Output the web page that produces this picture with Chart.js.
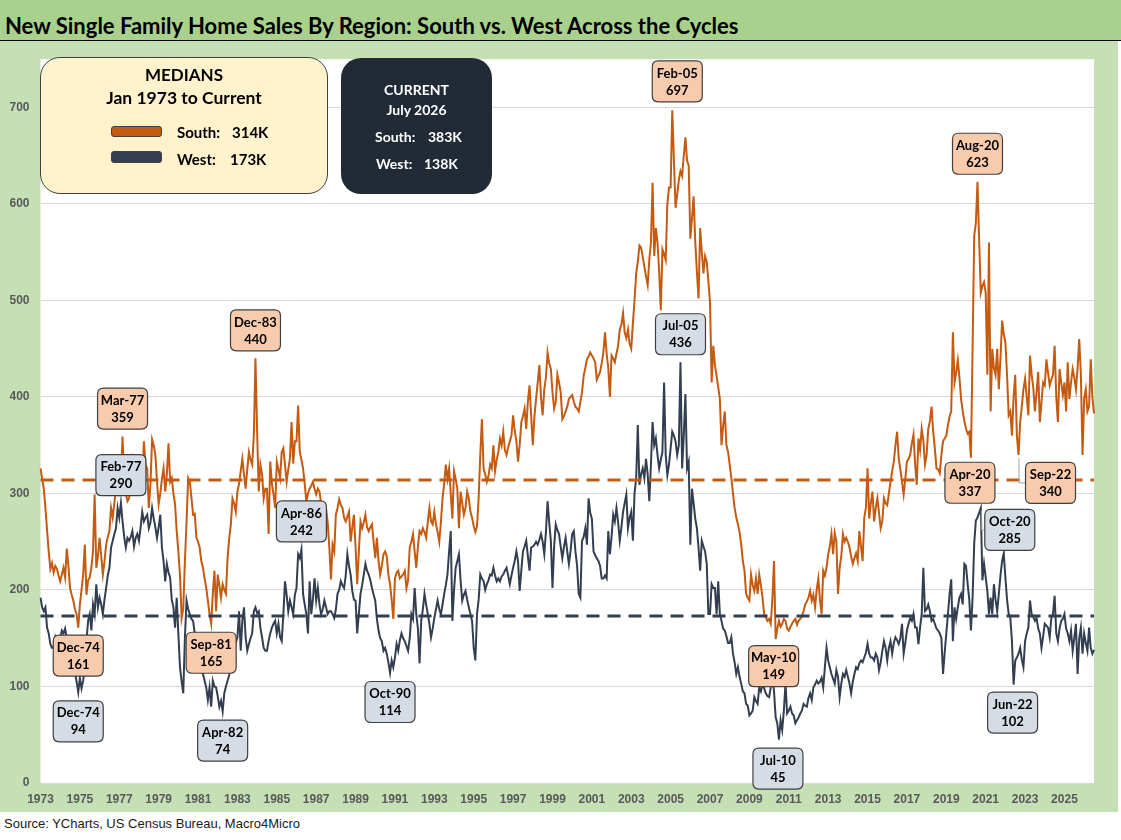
<!DOCTYPE html>
<html>
<head>
<meta charset="utf-8">
<script src="https://cdn.jsdelivr.net/npm/chart.js@4.4.1/dist/chart.umd.min.js"></script>
<style>
  body { margin: 0; background: #fff; font-family: Lato, "Open Sans", sans-serif; }
  #page { position: relative; width: 1121px; height: 840px; overflow: hidden; }
  #title { position: absolute; left: 0; top: 0; width: 1121px; height: 40px; background: #a9d18e; border-bottom: 1px solid #000; }
  #title span { position: absolute; left: 5px; top: 15px; font: bold 22px/22px Lato, sans-serif; color: #000; white-space: nowrap; }
  #frame { position: absolute; left: 0; top: 41px; width: 1118px; height: 771px; background: #c5e0b4; }
  #frame canvas { position: absolute; left: 0; top: 0; }
  .abs { position: absolute; white-space: nowrap; }
  .t { font-weight: bold; line-height: 1; }
  #source { position: absolute; left: 4px; top: 817px; font: 13px/1 "Liberation Sans", Arial, sans-serif; color: #1a1a1a; }
</style>
</head>
<body>
<div id="page">
  <div id="title"><span>New Single Family Home Sales By Region: South vs. West Across the Cycles</span></div>
  <div id="frame"><canvas id="chart" width="1118" height="771"></canvas></div>

  <!-- medians box -->
  <div class="abs" style="left:40px;top:57px;width:286px;height:135px;background:#fff2cc;border:1px solid #404040;border-radius:20px;"></div>
  <div class="abs t" style="left:40px;top:66px;width:288px;text-align:center;font-size:17px;">MEDIANS</div>
  <div class="abs t" style="left:40px;top:89px;width:288px;text-align:center;font-size:17.5px;">Jan 1973 to Current</div>
  <div class="abs" style="left:111px;top:126px;width:49px;height:9px;background:#c55a11;border:1px solid #404040;border-radius:3px;"></div>
  <div class="abs t" style="left:177px;top:125px;font-size:15px;">South:</div>
  <div class="abs t" style="left:232px;top:125px;font-size:15px;">314K</div>
  <div class="abs" style="left:111px;top:151px;width:49px;height:10px;background:#333f50;border:1px solid #404040;border-radius:3px;"></div>
  <div class="abs t" style="left:177px;top:152px;font-size:15px;">West:</div>
  <div class="abs t" style="left:230px;top:152px;font-size:15px;">173K</div>

  <!-- current box -->
  <div class="abs" style="left:341px;top:58px;width:151px;height:136px;background:#222a35;border-radius:20px;"></div>
  <div class="abs t" style="left:341px;top:83px;width:151px;text-align:center;font-size:14px;color:#fff;">CURRENT</div>
  <div class="abs t" style="left:341px;top:103px;width:151px;text-align:center;font-size:14px;color:#fff;">July 2026</div>
  <div class="abs t" style="left:375px;top:130px;font-size:14px;color:#fff;">South:</div>
  <div class="abs t" style="left:428px;top:130px;font-size:14px;color:#fff;">383K</div>
  <div class="abs t" style="left:376px;top:157px;font-size:14px;color:#fff;">West:</div>
  <div class="abs t" style="left:424px;top:157px;font-size:14px;color:#fff;">138K</div>

  <div id="source">Source: YCharts, US Census Bureau, Macro4Micro</div>
</div>

<script>
// monthly sales, thousands (SAAR), Jan 1973 .. Jul 2026
const south = [
  326, 315, 305, 285, 262, 240, 222, 228, 218, 225, 222, 215, // 1973
  209, 216, 223, 213, 243, 225, 202, 195, 189, 180, 175, 161, // 1974
  185, 200, 216, 247, 195, 210, 213, 223, 240, 299, 223, 235, // 1975
  254, 235, 216, 230, 247, 255, 261, 285, 275, 290, 305, 319, // 1976
  302, 310, 359, 312, 300, 292, 295, 310, 333, 320, 336, 330, // 1977
  326, 318, 312, 354, 330, 326, 285, 310, 356, 350, 340, 312, // 1978
  289, 300, 315, 326, 302, 320, 352, 312, 316, 300, 289, 261, // 1979
  240, 215, 171, 181, 230, 271, 316, 312, 295, 278, 279, 254, // 1980
  250, 244, 230, 223, 212, 202, 189, 175, 165, 196, 220, 178, // 1981
  216, 205, 192, 206, 200, 196, 233, 254, 268, 295, 290, 281, // 1982
  302, 310, 323, 336, 320, 305, 325, 343, 335, 330, 360, 440, // 1983
  364, 302, 330, 320, 295, 305, 305, 258, 333, 310, 299, 285, // 1984
  333, 325, 316, 343, 347, 330, 312, 325, 336, 374, 331, 354, // 1985
  354, 391, 343, 335, 326, 310, 292, 300, 305, 308, 312, 305, // 1986
  299, 305, 302, 290, 278, 285, 285, 270, 244, 211, 247, 240, // 1987
  278, 285, 294, 288, 285, 275, 271, 276, 281, 250, 265, 278, // 1988
  244, 206, 240, 271, 264, 270, 278, 265, 261, 265, 268, 250, // 1989
  233, 254, 230, 216, 225, 237, 240, 235, 216, 206, 190, 170, // 1990
  212, 218, 220, 212, 214, 216, 220, 202, 210, 244, 250, 258, // 1991
  240, 223, 245, 261, 258, 264, 260, 254, 270, 285, 271, 268, // 1992
  281, 268, 260, 250, 270, 295, 310, 330, 315, 326, 300, 274, // 1993
  323, 315, 305, 264, 302, 290, 278, 285, 302, 295, 281, 275, // 1994
  266, 260, 266, 295, 340, 377, 326, 320, 312, 318, 330, 326, // 1995
  350, 323, 335, 343, 357, 350, 364, 345, 340, 348, 354, 360, // 1996
  381, 365, 354, 333, 350, 374, 380, 388, 367, 395, 412, 381, // 1997
  350, 380, 398, 415, 433, 400, 381, 408, 420, 446, 435, 429, // 1998
  405, 388, 395, 423, 415, 405, 377, 380, 385, 390, 398, 400, // 1999
  402, 395, 390, 388, 385, 395, 405, 422, 430, 439, 442, 446, // 2000
  443, 440, 436, 418, 422, 426, 435, 446, 467, 445, 430, 400, // 2001
  443, 440, 436, 445, 453, 470, 475, 487, 467, 461, 470, 455, // 2002
  450, 476, 500, 528, 540, 557, 555, 545, 535, 525, 516, 542, // 2003
  560, 622, 546, 575, 560, 530, 490, 553, 548, 542, 600, 617, // 2004
  617, 697, 645, 596, 610, 625, 634, 629, 650, 669, 645, 640, // 2005
  564, 585, 608, 561, 530, 502, 575, 550, 528, 546, 540, 520, // 2006
  498, 415, 453, 433, 422, 410, 398, 350, 370, 385, 350, 343, // 2007
  330, 316, 300, 285, 275, 268, 260, 247, 230, 220, 196, 192, // 2008
  189, 216, 205, 199, 212, 196, 216, 205, 192, 175, 172, 168, // 2009
  170, 165, 190, 230, 149, 160, 168, 162, 165, 170, 168, 160, // 2010
  158, 162, 165, 168, 170, 164, 168, 170, 173, 178, 185, 188, // 2011
  192, 199, 189, 195, 182, 200, 212, 190, 175, 220, 215, 223, // 2012
  237, 245, 258, 237, 259, 250, 196, 223, 235, 258, 250, 254, // 2013
  250, 244, 235, 227, 233, 238, 230, 261, 245, 230, 275, 285, // 2014
  326, 274, 290, 302, 271, 285, 295, 280, 264, 271, 295, 290, // 2015
  288, 300, 312, 323, 333, 350, 364, 336, 325, 312, 299, 315, // 2016
  333, 336, 340, 352, 361, 330, 309, 357, 345, 367, 355, 330, // 2017
  340, 367, 375, 390, 364, 347, 326, 325, 321, 340, 354, 357, // 2018
  360, 371, 380, 385, 467, 415, 425, 438, 420, 398, 385, 375, // 2019
  367, 362, 364, 337, 450, 567, 580, 623, 563, 508, 515, 519, // 2020
  508, 423, 560, 385, 450, 430, 423, 450, 408, 440, 479, 465, // 2021
  457, 423, 381, 385, 360, 400, 423, 360, 340, 374, 390, 408, // 2022
  419, 400, 381, 443, 423, 410, 385, 405, 426, 374, 395, 415, // 2023
  412, 439, 425, 412, 418, 423, 453, 400, 374, 429, 415, 402, // 2024
  415, 385, 436, 398, 415, 429, 420, 408, 430, 460, 423, 340, // 2025
  398, 408, 385, 390, 439, 400, 383                           // 2026
];

const west = [
  192, 182, 178, 182, 161, 155, 144, 140, 141, 151, 145, 140, // 1973
  150, 158, 155, 160, 150, 140, 135, 125, 120, 115, 105, 94,  // 1974
  109, 98, 106, 120, 147, 168, 175, 158, 185, 175, 206, 182,  // 1975
  192, 185, 175, 190, 202, 215, 223, 244, 251, 258, 264, 285, // 1976
  275, 290, 271, 255, 244, 254, 251, 255, 261, 245, 254, 258, // 1977
  251, 265, 281, 271, 275, 278, 264, 270, 285, 274, 265, 254, // 1978
  265, 278, 244, 230, 209, 227, 218, 213, 190, 182, 161, 192, // 1979
  155, 120, 105, 93, 151, 189, 180, 175, 170, 168, 155, 147,  // 1980
  134, 125, 116, 113, 106, 99, 86, 99, 79, 106, 100, 99,      // 1981
  90, 79, 85, 74, 93, 100, 106, 112, 120, 130, 140, 145,      // 1982
  151, 178, 137, 168, 182, 151, 137, 144, 150, 155, 178, 182, // 1983
  176, 178, 161, 151, 140, 137, 137, 147, 155, 161, 165, 168, // 1984
  155, 165, 151, 147, 175, 209, 195, 178, 189, 182, 175, 195, // 1985
  202, 237, 233, 242, 196, 185, 175, 155, 209, 175, 190, 212, // 1986
  189, 202, 185, 175, 180, 189, 182, 175, 178, 178, 175, 171, // 1987
  180, 196, 200, 209, 205, 202, 215, 237, 225, 216, 199, 190, // 1988
  189, 155, 175, 196, 205, 216, 227, 220, 216, 210, 202, 195, // 1989
  189, 170, 158, 150, 147, 137, 140, 134, 125, 114, 127, 120, // 1990
  130, 144, 137, 148, 155, 150, 147, 142, 137, 150, 175, 170, // 1991
  202, 175, 160, 124, 168, 180, 196, 185, 175, 165, 151, 160, // 1992
  171, 180, 189, 180, 175, 185, 196, 205, 216, 240, 261, 168, // 1993
  200, 223, 230, 237, 210, 189, 195, 199, 190, 182, 175, 168, // 1994
  140, 127, 175, 190, 216, 212, 209, 200, 206, 210, 216, 215, // 1995
  223, 215, 209, 212, 209, 214, 216, 220, 223, 215, 206, 215, // 1996
  223, 230, 240, 230, 199, 220, 240, 245, 251, 235, 220, 244, // 1997
  245, 247, 250, 247, 252, 258, 250, 237, 260, 292, 270, 251, // 1998
  202, 245, 268, 262, 258, 245, 233, 245, 254, 240, 227, 240, // 1999
  258, 261, 240, 225, 196, 192, 251, 255, 264, 247, 295, 280, // 2000
  274, 240, 236, 233, 230, 225, 212, 212, 215, 212, 261, 237, // 2001
  255, 278, 271, 285, 270, 251, 265, 281, 290, 299, 264, 275, // 2002
  281, 251, 300, 316, 371, 309, 320, 326, 316, 336, 320, 292, // 2003
  330, 374, 350, 357, 340, 326, 335, 343, 415, 340, 319, 330, // 2004
  347, 364, 360, 354, 340, 350, 436, 326, 360, 403, 326, 333, // 2005
  247, 305, 290, 274, 264, 244, 220, 251, 245, 240, 227, 175, // 2006
  175, 206, 202, 202, 175, 209, 175, 168, 160, 158, 152, 145, // 2007
  145, 151, 134, 125, 113, 120, 110, 103, 95, 93, 82, 80,     // 2008
  70, 72, 75, 89, 85, 82, 99, 95, 103, 98, 93, 90,            // 2009
  89, 99, 113, 95, 68, 62, 45, 65, 55, 75, 103, 72,           // 2010
  75, 79, 72, 70, 62, 65, 68, 72, 75, 82, 80, 79,             // 2011
  88, 93, 86, 99, 102, 106, 103, 105, 109, 99, 120, 140,      // 2012
  127, 120, 113, 108, 103, 117, 110, 89, 103, 113, 110, 117,  // 2013
  110, 103, 93, 105, 113, 120, 118, 124, 127, 125, 130, 135,  // 2014
  144, 134, 130, 130, 127, 134, 130, 117, 125, 137, 147, 140, // 2015
  127, 140, 147, 134, 145, 151, 148, 144, 150, 165, 134, 145, // 2016
  158, 165, 171, 168, 175, 161, 161, 144, 161, 175, 223, 178, // 2017
  180, 185, 178, 168, 170, 165, 160, 158, 155, 150, 113, 135, // 2018
  155, 175, 196, 211, 147, 182, 170, 182, 192, 196, 185, 227, // 2019
  225, 206, 190, 158, 192, 248, 272, 275, 280, 285, 210, 227, // 2020
  213, 199, 175, 192, 175, 206, 190, 178, 196, 215, 230, 238, // 2021
  213, 190, 175, 171, 147, 102, 127, 130, 134, 140, 128, 120, // 2022
  147, 155, 161, 189, 175, 172, 168, 171, 160, 155, 140, 152, // 2023
  165, 163, 161, 151, 171, 175, 194, 155, 147, 160, 168, 170, // 2024
  175, 160, 155, 147, 158, 137, 150, 165, 113, 150, 161, 134, // 2025
  155, 145, 137, 161, 140, 134, 138                           // 2026
];

const startYear = 1973;
const monthNames = ['Jan', 'Feb', 'Mar', 'Apr', 'May', 'Jun', 'Jul', 'Aug', 'Sep', 'Oct', 'Nov', 'Dec'];
const tickYears = [1973, 1975, 1977, 1979, 1981, 1983, 1985, 1987, 1989, 1991, 1993, 1995, 1997,
  1999, 2001, 2003, 2005, 2007, 2009, 2011, 2013, 2015, 2017, 2019, 2021, 2023, 2025];
const yTicks = [0, 100, 200, 300, 400, 500, 600, 700];

const medianSouth = 314;
const medianWest = 173;

// labelled highs and lows
const callouts = [
  { date: 'Feb-05', series: 'south', dx: 5, dy: -29 },
  { date: 'Jul-05', series: 'west', dx: 0, dy: -28 },
  { date: 'Dec-83', series: 'south', dx: 0, dy: -28 },
  { date: 'Mar-77', series: 'south', dx: 0, dy: -28 },
  { date: 'Feb-77', series: 'west', dx: 0, dy: -28 },
  { date: 'Apr-86', series: 'west', dx: 0, dy: -28 },
  { date: 'Dec-74', series: 'south', dx: 0, dy: 28 },
  { date: 'Dec-74', series: 'west', dx: 0, dy: 29 },
  { date: 'Sep-81', series: 'south', dx: 0, dy: 29 },
  { date: 'Apr-82', series: 'west', dx: 0, dy: 29 },
  { date: 'Oct-90', series: 'west', dx: 0, dy: 29 },
  { date: 'May-10', series: 'south', dx: -2, dy: 27 },
  { date: 'Jul-10', series: 'west', dx: -1, dy: 29 },
  { date: 'Aug-20', series: 'south', dx: 0, dy: -28 },
  { date: 'Apr-20', series: 'south', dx: -1, dy: 25 },
  { date: 'Sep-22', series: 'south', dx: 32, dy: 28, leader: true },
  { date: 'Oct-20', series: 'west', dx: 29, dy: 22, leader: true },
  { date: 'Jun-22', series: 'west', dx: -1, dy: 28 }
];

const labels = south.map((_, i) =>
  monthNames[i % 12] + '-' + String(startYear + Math.floor(i / 12)).slice(2));

const seriesData = { south: south, west: west };
const calloutFill = { south: '#f8cbad', west: '#d6dce5' };

function roundRect(ctx, x, y, w, h, r) {
  ctx.beginPath();
  ctx.moveTo(x + r, y);
  ctx.lineTo(x + w - r, y);
  ctx.quadraticCurveTo(x + w, y, x + w, y + r);
  ctx.lineTo(x + w, y + h - r);
  ctx.quadraticCurveTo(x + w, y + h, x + w - r, y + h);
  ctx.lineTo(x + r, y + h);
  ctx.quadraticCurveTo(x, y + h, x, y + h - r);
  ctx.lineTo(x, y + r);
  ctx.quadraticCurveTo(x, y, x + r, y);
  ctx.closePath();
}

const plotBackground = {
  id: 'plotBackground',
  beforeDraw(chart) {
    const a = chart.chartArea;
    chart.ctx.save();
    chart.ctx.fillStyle = '#ffffff';
    chart.ctx.fillRect(a.left, a.top, a.right - a.left, a.bottom - a.top);
    chart.ctx.restore();
  }
};

const medianLines = {
  id: 'medianLines',
  afterDatasetsDraw(chart) {
    const ctx = chart.ctx, a = chart.chartArea, y = chart.scales.y;
    ctx.save();
    ctx.lineWidth = 3;
    ctx.setLineDash([13, 8]);
    [[medianSouth, '#c55a11'], [medianWest, '#333f50']].forEach(([v, c]) => {
      const py = y.getPixelForValue(v);
      ctx.strokeStyle = c;
      ctx.beginPath();
      ctx.moveTo(a.left, py);
      ctx.lineTo(a.right, py);
      ctx.stroke();
    });
    ctx.restore();
  }
};

const calloutBoxes = {
  id: 'calloutBoxes',
  afterDraw(chart) {
    const ctx = chart.ctx, xs = chart.scales.x, ys = chart.scales.y;
    ctx.save();
    callouts.forEach(c => {
      const i = labels.indexOf(c.date);
      const v = seriesData[c.series][i];
      const px = xs.getPixelForValue(i), py = ys.getPixelForValue(v);
      const cx = px + c.dx, cy = py + c.dy;
      const w = 50, h = 41;
      if (c.leader) {
        ctx.strokeStyle = '#a6a6a6';
        ctx.lineWidth = 1;
        ctx.setLineDash([]);
        ctx.beginPath();
        ctx.moveTo(px + 0.5, py + 3);
        ctx.lineTo(px + 0.5, cy);
        ctx.lineTo(cx - w / 2, cy);
        ctx.stroke();
      }
      roundRect(ctx, cx - w / 2, cy - h / 2, w, h, 6);
      ctx.fillStyle = calloutFill[c.series];
      ctx.fill();
      ctx.strokeStyle = '#404040';
      ctx.lineWidth = 1.2;
      ctx.stroke();
      ctx.fillStyle = '#000';
      ctx.font = 'bold 13px Lato, sans-serif';
      ctx.textAlign = 'center';
      ctx.textBaseline = 'middle';
      ctx.fillText(c.date, cx, cy - 8);
      ctx.fillText(String(v), cx, cy + 9);
    });
    ctx.restore();
  }
};

new Chart(document.getElementById('chart'), {
  type: 'line',
  data: {
    labels: labels,
    datasets: [
      {
        label: 'South',
        data: south,
        borderColor: '#c55a11',
        borderWidth: 2,
        pointRadius: 0,
        tension: 0,
        order: 1
      },
      {
        label: 'West',
        data: west,
        borderColor: '#333f50',
        borderWidth: 2,
        pointRadius: 0,
        tension: 0,
        order: 0
      }
    ]
  },
  options: {
    responsive: false,
    animation: false,
    devicePixelRatio: 1,
    layout: { padding: { top: 14, right: 24, left: 0, bottom: 0 } },
    plugins: {
      legend: { display: false },
      tooltip: { enabled: false }
    },
    scales: {
      x: {
        type: 'category',
        offset: false,
        grid: { display: false, drawTicks: false },
        border: { display: false },
        afterBuildTicks: axis => {
          axis.ticks = tickYears.map(yr => ({ value: (yr - startYear) * 12 }));
        },
        afterFit: axis => { axis.height = 29; },
        ticks: {
          autoSkip: false,
          maxRotation: 0,
          minRotation: 0,
          padding: 9,
          color: '#595959',
          font: { family: "'Liberation Sans', Arial, sans-serif", size: 12, weight: 'bold' },
          callback: v => String(startYear + v / 12)
        }
      },
      y: {
        min: 0,
        max: 750,
        grid: { color: '#d9d9d9', lineWidth: 1, drawTicks: false },
        border: { display: false },
        afterBuildTicks: axis => {
          axis.ticks = yTicks.map(v => ({ value: v }));
        },
        afterFit: axis => { axis.width = 40.5; },
        ticks: {
          padding: 11,
          color: '#595959',
          font: { family: "'Liberation Sans', Arial, sans-serif", size: 12, weight: 'bold' }
        }
      }
    }
  },
  plugins: [plotBackground, medianLines, calloutBoxes]
});
</script>
</body>
</html>
